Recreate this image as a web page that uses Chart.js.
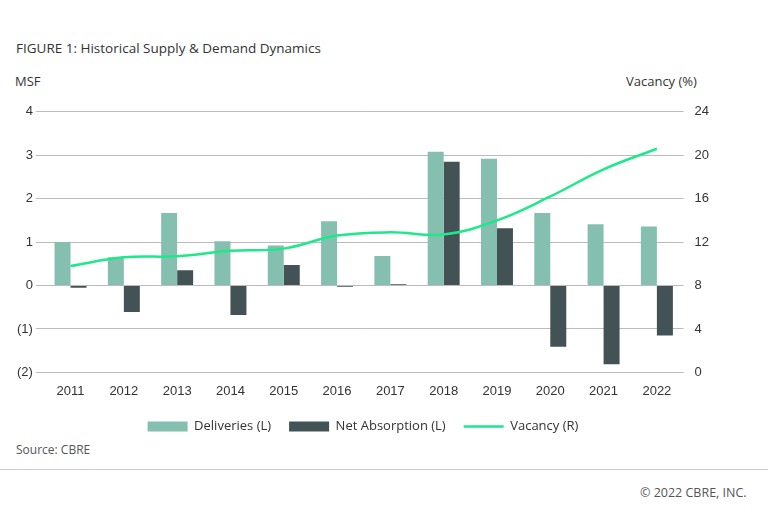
<!DOCTYPE html>
<html><head><meta charset="utf-8">
<script src="https://cdn.jsdelivr.net/npm/chart.js"></script>
<style>
body{margin:0;width:768px;height:524px;background:#fff;font-family:"Open Sans",Arial,sans-serif;position:relative;overflow:hidden}
.t{position:absolute;color:#333;font-size:13px}
#wrap{position:absolute;left:0;top:101px;width:712px;height:342px}
</style></head><body>
<div class="t" style="left:16px;top:39px;font-size:13.5px">FIGURE 1: Historical Supply &amp; Demand Dynamics</div>
<div class="t" style="left:15px;top:72px">MSF</div>
<div class="t" style="left:626px;top:72px">Vacancy (%)</div>
<div class="t" style="left:16px;top:441px;font-size:12px;color:#555">Source: CBRE</div>
<div style="position:absolute;left:0;top:469px;width:768px;height:1px;background:#ccc"></div>
<div class="t" style="left:640px;top:484px;font-size:12.5px;color:#555">© 2022 CBRE, INC.</div>
<div id="wrap"><canvas id="c"></canvas></div>
<script>
const years=["2011","2012","2013","2014","2015","2016","2017","2018","2019","2020","2021","2022"];
const deliveries=[1.0,0.65,1.67,1.02,0.92,1.48,0.68,3.08,2.92,1.67,1.41,1.36];
const netAbsorption=[-0.05,-0.61,0.35,-0.68,0.47,-0.03,0.03,2.85,1.32,-1.41,-1.81,-1.15];
const vacancy=[9.8,10.6,10.7,11.2,11.4,12.6,12.9,12.7,14.0,16.2,18.7,20.6];
new Chart(document.getElementById('c'),{
 data:{labels:years,datasets:[
  {type:'line',label:'Vacancy (R)',data:vacancy,yAxisID:'y1',borderColor:'#1de98b',backgroundColor:'#1de98b',borderWidth:2.5,pointRadius:0,pointStyle:'line',tension:0.4,order:0},
  {type:'bar',label:'Deliveries (L)',data:deliveries,yAxisID:'y',backgroundColor:'#84bfb0',pointStyle:'rect',categoryPercentage:0.6,barPercentage:1,order:1},
  {type:'bar',label:'Net Absorption (L)',data:netAbsorption,yAxisID:'y',backgroundColor:'#435254',pointStyle:'rect',categoryPercentage:0.6,barPercentage:1,order:1}
 ]},
 options:{responsive:true,maintainAspectRatio:false,animation:false,
  layout:{padding:{left:14,right:0,top:0,bottom:0}},
  plugins:{legend:{position:'bottom',labels:{color:'#333',font:{size:13,family:'Open Sans'},usePointStyle:true,pointStyleWidth:40,boxHeight:10,padding:18,
    sort:(a,b)=>[1,2,0].indexOf(a.datasetIndex)-[1,2,0].indexOf(b.datasetIndex)}},tooltip:{enabled:false}},
  scales:{
   x:{grid:{display:false},border:{display:false},ticks:{color:'#333',font:{size:13}}},
   y:{min:-2,max:4,ticks:{stepSize:1,color:'#333',font:{size:13},callback:v=>v<0?'('+(-v)+')':v},grid:{color:'#bbb'},border:{display:false}},
   y1:{position:'right',min:0,max:24,ticks:{stepSize:4,color:'#333',font:{size:13}},grid:{display:false},border:{display:false}}
  }}
});
</script></body></html>
